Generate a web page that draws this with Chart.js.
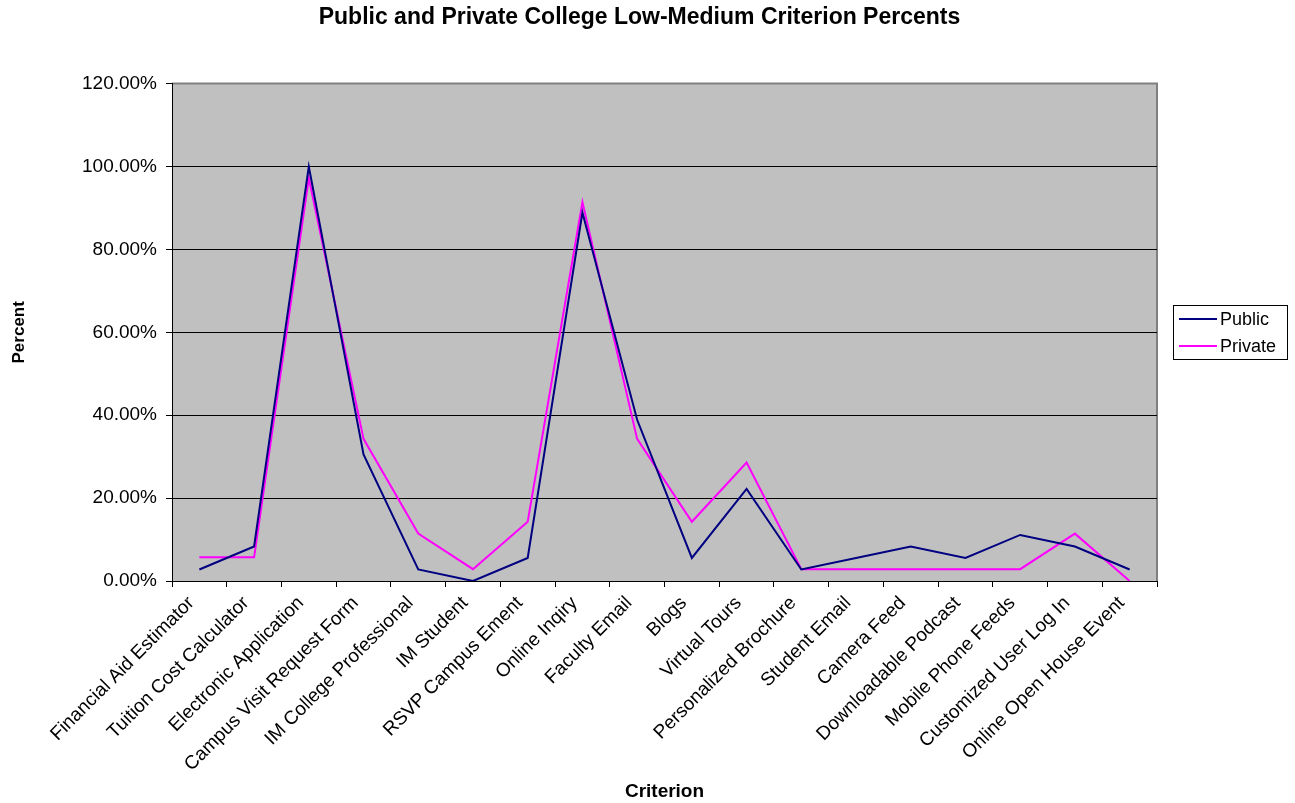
<!DOCTYPE html>
<html>
<head>
<meta charset="utf-8">
<title>Public and Private College Low-Medium Criterion Percents</title>
<script src="https://cdn.jsdelivr.net/npm/chart.js@4/dist/chart.umd.min.js"></script>
<style>
  html, body { margin: 0; padding: 0; background: #ffffff; }
  #wrap { width: 1295px; height: 803px; }
</style>
</head>
<body>
<div id="wrap"><canvas id="chart" width="1295" height="803"></canvas></div>
<script>
// Criteria along the horizontal axis
const categories = [
  'Financial Aid Estimator', 'Tuition Cost Calculator', 'Electronic Application',
  'Campus Visit Request Form', 'IM College Professional', 'IM Student',
  'RSVP Campus Ement', 'Online Inqiry', 'Faculty Email', 'Blogs', 'Virtual Tours',
  'Personalized Brochure', 'Student Email', 'Camera Feed', 'Downloadable Podcast',
  'Mobile Phone Feeds', 'Customized User Log In', 'Online Open House Event'
];

// Percent of respondents rating each criterion low-medium
const publicPct = [
  2.78, 8.33, 100.00, 30.56, 2.78, 0.00, 5.56, 88.89, 38.89,
  5.56, 22.22, 2.78, 5.56, 8.33, 5.56, 11.11, 8.33, 2.78
];
const privatePct = [
  5.71, 5.71, 97.14, 34.29, 11.43, 2.86, 14.29, 91.43, 34.29,
  14.29, 28.57, 2.86, 2.86, 2.86, 2.86, 2.86, 11.43, 0.00
];

// Value axis tick labels
const yTickValues = [0, 20, 40, 60, 80, 100, 120];
const yTickLabels = ['0.00%', '20.00%', '40.00%', '60.00%', '80.00%', '100.00%', '120.00%'];

const seriesNames = ['Public', 'Private'];
const seriesColors = ['#000080', '#FF00FF'];

const FONT = '"Liberation Sans", Arial, Helvetica, sans-serif';

// Grey plot background with a grey frame on the top and right edges
const plotBackground = {
  id: 'plotBackground',
  beforeDraw(chart) {
    const { ctx, chartArea: a } = chart;
    ctx.save();
    ctx.fillStyle = '#C0C0C0';
    ctx.fillRect(a.left, a.top, a.right - a.left, a.bottom - a.top);
    ctx.strokeStyle = '#808080';
    ctx.lineWidth = 2;
    ctx.beginPath();
    ctx.moveTo(a.left, a.top);
    ctx.lineTo(a.right, a.top);
    ctx.lineTo(a.right, a.bottom);
    ctx.stroke();
    ctx.restore();
  }
};

// Boxed legend to the right of the plot
const boxedLegend = {
  id: 'boxedLegend',
  afterDraw(chart) {
    const { ctx, chartArea: a } = chart;
    const x = a.right + 16, y = 305, w = 114, h = 54;
    ctx.save();
    ctx.fillStyle = '#ffffff';
    ctx.fillRect(x, y, w, h);
    ctx.strokeStyle = '#000000';
    ctx.lineWidth = 1;
    ctx.strokeRect(x + 0.5, y + 0.5, w, h);
    ctx.font = '18px ' + FONT;
    ctx.textBaseline = 'middle';
    chart.data.datasets.forEach((ds, i) => {
      const ly = y + 14 + i * 27;
      ctx.strokeStyle = ds.borderColor;
      ctx.lineWidth = 2;
      ctx.beginPath();
      ctx.moveTo(x + 6, ly);
      ctx.lineTo(x + 44, ly);
      ctx.stroke();
      ctx.fillStyle = '#000000';
      ctx.fillText(ds.label, x + 47, ly + 1);
    });
    ctx.restore();
  }
};

new Chart(document.getElementById('chart'), {
  type: 'line',
  data: {
    labels: categories,
    datasets: [
      { label: seriesNames[0], data: publicPct, yAxisID: 'y', borderColor: seriesColors[0],
        backgroundColor: seriesColors[0], borderWidth: 2, pointRadius: 0, tension: 0, fill: false },
      { label: seriesNames[1], data: privatePct, yAxisID: 'y', borderColor: seriesColors[1],
        backgroundColor: seriesColors[1], borderWidth: 2, pointRadius: 0, tension: 0, fill: false }
    ]
  },
  options: {
    responsive: false,
    animation: false,
    layout: { padding: { left: 0, right: 16, top: 0, bottom: 0 } },
    plugins: {
      legend: { display: false },
      tooltip: { enabled: false },
      title: {
        display: true,
        text: 'Public and Private College Low-Medium Criterion Percents',
        color: '#000000',
        font: { family: FONT, size: 23, weight: 'bold' },
        padding: { top: 4, bottom: 52 }
      }
    },
    scales: {
      x: {
        offset: true,
        afterFit(scale) { scale.height = 222; },
        grid: { drawOnChartArea: false, offset: true, tickLength: 6, tickColor: '#000000' },
        border: { color: '#000000', width: 1 },
        ticks: {
          color: '#000000', font: { family: FONT, size: 19 },
          autoSkip: false, maxRotation: 45, minRotation: 45, padding: 5, labelOffset: -8
        },
        title: {
          display: true, text: 'Criterion', color: '#000000',
          font: { family: FONT, size: 19, weight: 'bold' },
          padding: { top: 0, bottom: 0 }
        }
      },
      y: {
        position: 'left',
        min: 0, max: 120,
        afterFit(scale) { scale.width = 172; },
        afterBuildTicks(scale) { scale.ticks = yTickValues.map(v => ({ value: v })); },
        grid: {
          color: ctx => (ctx.tick && ctx.tick.value === 120) ? 'rgba(0,0,0,0)' : '#000000',
          lineWidth: 1, tickLength: 6, tickColor: '#000000'
        },
        border: { color: '#000000', width: 1 },
        ticks: {
          color: '#000000', font: { family: FONT, size: 19 }, padding: 9,
          callback: (v) => yTickLabels[yTickValues.indexOf(v)]
        },
        title: {
          display: true, text: 'Percent', color: '#000000',
          font: { family: FONT, size: 17, weight: 'bold' },
          padding: { top: 9, bottom: 0 }
        }
      },
      // empty strip on the right that holds the legend
      legendSpace: {
        type: 'linear', axis: 'y', position: 'right', min: 0, max: 1,
        afterFit(scale) { scale.width = 122; },
        grid: { display: false, drawTicks: false },
        border: { display: false },
        ticks: { display: false }
      }
    }
  },
  plugins: [plotBackground, boxedLegend]
});
</script>
</body>
</html>
